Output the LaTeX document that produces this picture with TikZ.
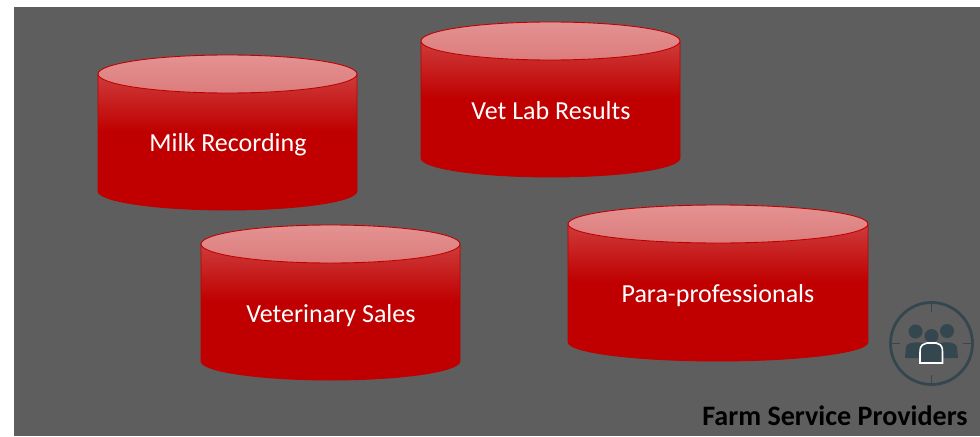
\documentclass[tikz,border=0pt]{standalone}
\usepackage{fontspec}
\setmainfont{Carlito}
\definecolor{panelgray}{HTML}{5E5E5E}
\definecolor{drumred}{HTML}{C00000}
\definecolor{drumtop}{HTML}{CE3C3C}
\definecolor{lidlight}{HTML}{E49292}
\definecolor{lidlow}{HTML}{DC7C7C}
\definecolor{iconslate}{HTML}{34474F}
\pgfdeclareverticalshading{drumshade}{100bp}{color(0bp)=(drumred); color(54bp)=(drumred); color(75bp)=(drumtop); color(100bp)=(drumtop)}
\tikzset{
  drumbody/.style={draw=drumred, line width=0.5pt, shading=drumshade},
  drumlid/.style={draw=drumred, line width=0.5pt, top color=lidlight, bottom color=lidlow},
  drumlabel/.style={text=white, font=\fontsize{14.8pt}{17pt}\selectfont, inner sep=0pt},
  iconline/.style={draw=iconslate, line width=1.6pt},
  iconfill/.style={fill=iconslate}
}
\begin{document}
\begin{tikzpicture}[x=0.02cm, y=-0.02cm]
\useasboundingbox (0,0) rectangle (980,436);

% Panel
\fill[panelgray] (14,7) rectangle (980,436);

% Milk Recording
\path[drumbody] (98,74) -- (98,191) arc[x radius=129.5, y radius=19, start angle=180, end angle=0] -- (357,74) -- cycle;
\path[drumlid] (227.5,74) ellipse[x radius=129.5, y radius=19];
\node[drumlabel] (milk) at (228,145) {Milk Recording};

% Vet Lab Results
\path[drumbody] (421,41) -- (421,158) arc[x radius=129.5, y radius=19, start angle=180, end angle=0] -- (680,41) -- cycle;
\path[drumlid] (550.5,41) ellipse[x radius=129.5, y radius=19];
\node[drumlabel] (vetlab) at (551,111) {Vet Lab Results};

% Veterinary Sales
\path[drumbody] (201,244) -- (201,361) arc[x radius=129.5, y radius=19, start angle=180, end angle=0] -- (460,244) -- cycle;
\path[drumlid] (330.5,244) ellipse[x radius=129.5, y radius=19];
\node[drumlabel] (vetsales) at (331,316) {Veterinary Sales};

% Para-professionals
\path[drumbody] (568,224) -- (568,342) arc[x radius=150, y radius=19, start angle=180, end angle=0] -- (868,224) -- cycle;
\path[drumlid] (718,224) ellipse[x radius=150, y radius=19];
\node[drumlabel] (para) at (718,296) {Para-professionals};

% Icon ring and ticks
\draw[iconline] (931.5,343.5) circle[radius=41];
\draw[iconslate, line width=0.7pt] (931.5,302) -- (931.5,312) (931.5,375) -- (931.5,385) (890,343.5) -- (900,343.5) (963,343.5) -- (973,343.5);

% Icon people
\fill[iconfill] (915.5,331.5) circle[radius=7];
\fill[iconfill] (947,331) circle[radius=7];
\fill[iconfill] (905,358) -- (906,347) .. controls (907,341) and (924,341) .. (926,345) -- (926,358) -- cycle;
\fill[iconfill] (958,358) -- (957,347) .. controls (956,341) and (939,341) .. (937,345) -- (937,358) -- cycle;
\fill[iconfill] (931.5,336) circle[radius=7];
\draw[iconfill, draw=white, line width=0.9pt] (920,363) -- (920,352) .. controls (920,344) and (924,344) .. (927,343) -- (936,343) .. controls (939,344) and (942.5,344) .. (942.5,352) -- (942.5,363) -- cycle;

% Caption
\node[anchor=base east, font=\fontsize{16pt}{18pt}\selectfont\bfseries, text=black, inner sep=0pt] (caption) at (968,425) {Farm Service Providers};
\end{tikzpicture}
\end{document}
